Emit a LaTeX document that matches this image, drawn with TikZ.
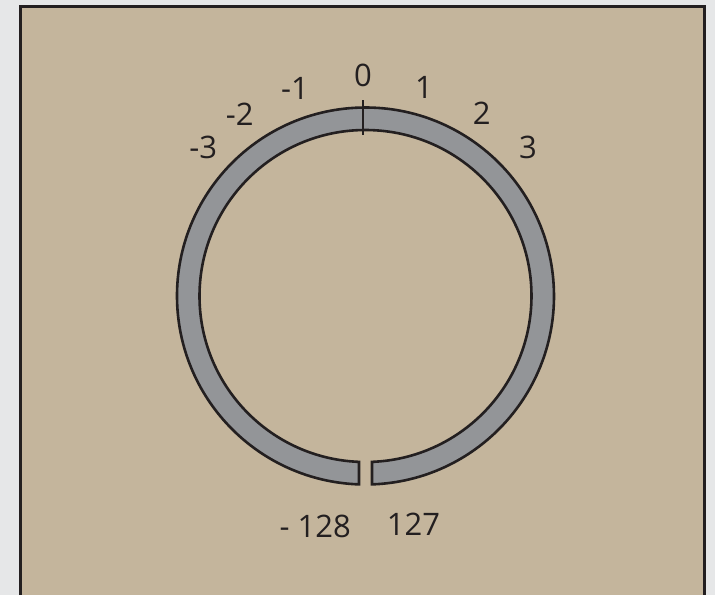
\documentclass[tikz,border=0pt]{standalone}
\usepackage{fontspec}
\setmainfont{Open Sans}
\usepackage{tikz}
\usetikzlibrary{calc}
\definecolor{pagegray}{HTML}{E6E7E8}
\definecolor{tan}{HTML}{C4B59C}
\definecolor{ringgray}{HTML}{939598}
\definecolor{ink}{HTML}{231F20}

\begin{document}
\begin{tikzpicture}[x=1pt, y=1pt, font=\fontsize{31}{37}\selectfont,
  ring/.style={draw=ink, fill=ringgray, line width=2.6pt, line join=miter},
  lbl/.style={text=ink, inner sep=0pt, anchor=center}]
  % page: 715 x 595, ring centre at the origin
  \useasboundingbox (-365.5,-299) rectangle (349.5,296);
  \fill[pagegray] (-365.5,-299) rectangle (349.5,296);
  % tan panel, open at the bottom
  \fill[tan] (-345,-299) rectangle (339.2,289.5);
  \draw[ink, line width=3pt] (-345,-299) |- (339.2,289.5) -- (339.2,-299);
  % ring R=188.5, r=166, cut at x=+-6.5
  \draw[ring] (271.98:188.5) arc[start angle=271.98, end angle=628.02, radius=188.5]
    -- (267.76:166) arc[start angle=627.76, end angle=272.24, radius=166] -- cycle;
  % zero mark
  \coordinate (zt) at (-2.5,196);
  \coordinate (zb) at (-2.5,161);
  \draw[ink, line width=2pt] (zt) -- (zb);
  % labels
  \node[lbl] (l0)  at (-2.5,221)    {0};
  \node[lbl] (l1)  at (58.5,208.3)  {1};
  \node[lbl] (l2)  at (116.2,183.2) {2};
  \node[lbl] (l3)  at (162.5,148.5) {3};
  \node[lbl] (lm1) at (-70.5,208)   {-1};
  \node[lbl] (lm2) at (-125.8,182.2) {-2};
  \node[lbl] (lm3) at (-162.2,149)  {-3};
  \node[lbl] (lmin) at (-50.2,-230.5) {- 128};
  \node[lbl] (lmax) at (48,-228)      {127};
\end{tikzpicture}
\end{document}
